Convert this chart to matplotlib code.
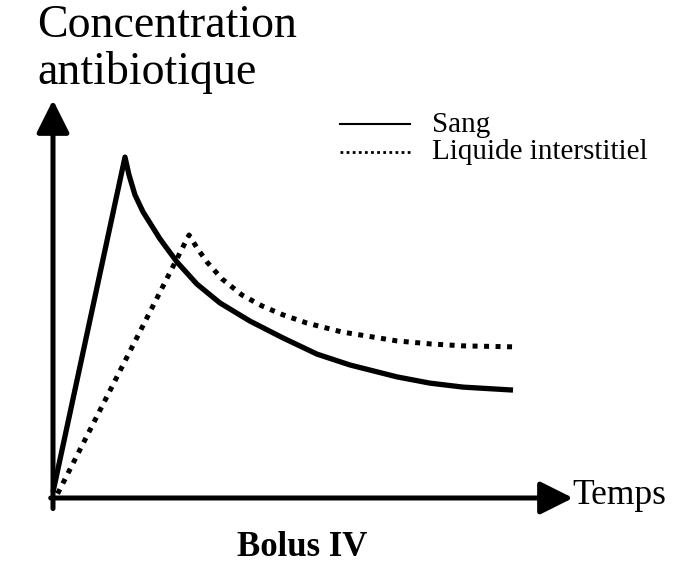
import matplotlib
matplotlib.use("Agg")
import matplotlib.pyplot as plt

# Sang (blood) concentration curve
sang_t = [0.0, 1.565, 1.652, 1.783, 1.957, 2.326, 2.696, 3.130, 3.630, 4.283, 5.000,
          5.739, 6.457, 7.478, 8.196, 8.913, 10.0]
sang_c = [0.15, 10.30, 9.76, 9.15, 8.64, 7.82, 7.12, 6.45, 5.88, 5.33, 4.82,
          4.33, 4.00, 3.64, 3.45, 3.33, 3.24]

# Liquide interstitiel concentration curve
liq_t = [0.1, 2.957, 3.130, 3.348, 3.674, 4.109, 4.543, 5.000, 5.522, 6.283,
         7.478, 8.196, 8.913, 10.0]
liq_c = [0.1, 7.94, 7.55, 7.12, 6.61, 6.12, 5.79, 5.52, 5.27, 5.00,
         4.73, 4.64, 4.58, 4.55]

labels = ["Sang", "Liquide interstitiel"]

W, H = 674, 572
fig = plt.figure(figsize=(W / 100, H / 100), dpi=100)
ax = fig.add_axes([0, 0, 1, 1])
ax.set_xlim(-53 / 46, (W - 53) / 46)
ax.set_ylim(-(H - 497) / 33, 497 / 33)
ax.axis("off")

serif = ["Liberation Serif", "DejaVu Serif"]

# axes arrows
arrow_kw = dict(arrowstyle="-|>,head_length=1.0,head_width=0.5", mutation_scale=20,
                lw=3.6, color="black", shrinkA=0, shrinkB=0)
ax.annotate("", xy=(0, (497 - 100) / 33), xytext=(0, -0.35), arrowprops=arrow_kw)
ax.annotate("", xy=((573 - 53) / 46, -0.03), xytext=(-0.05, -0.03), arrowprops=arrow_kw)

# curves
ax.plot(sang_t, sang_c, color="black", lw=3.8, solid_joinstyle="round", solid_capstyle="butt")
ax.plot(liq_t, liq_c, color="black", lw=3.6, linestyle=(0, (1, 1.3)), dash_capstyle="butt")

# axis labels
fig.text(37 / W, 1 - 26 / H, "Concentration", family=serif, fontsize=33, va="center", ha="left")
fig.text(37 / W, 1 - 72 / H, "antibiotique", family=serif, fontsize=33, va="center", ha="left")
fig.text(572 / W, 1 - 495 / H, "Temps", family=serif, fontsize=25.5, va="center", ha="left")
fig.text(302 / W, 1 - 548 / H, "Bolus IV", family=serif, fontsize=25, weight="bold",
         va="center", ha="center")

# legend (manual)
fig.add_artist(plt.Line2D([340 / W, 410 / W], [1 - 124 / H, 1 - 124 / H], color="black", lw=1.5))
fig.add_artist(plt.Line2D([340 / W, 410 / W], [1 - 152 / H, 1 - 152 / H], color="black", lw=2,
                          linestyle=(0, (1, 1.2)), dash_capstyle="butt"))
fig.text(432 / W, 1 - 125 / H, labels[0], family=serif, fontsize=21, va="center", ha="left")
fig.text(432 / W, 1 - 152 / H, labels[1], family=serif, fontsize=21, va="center", ha="left")

fig.savefig("out.png", dpi=100, facecolor="white")
